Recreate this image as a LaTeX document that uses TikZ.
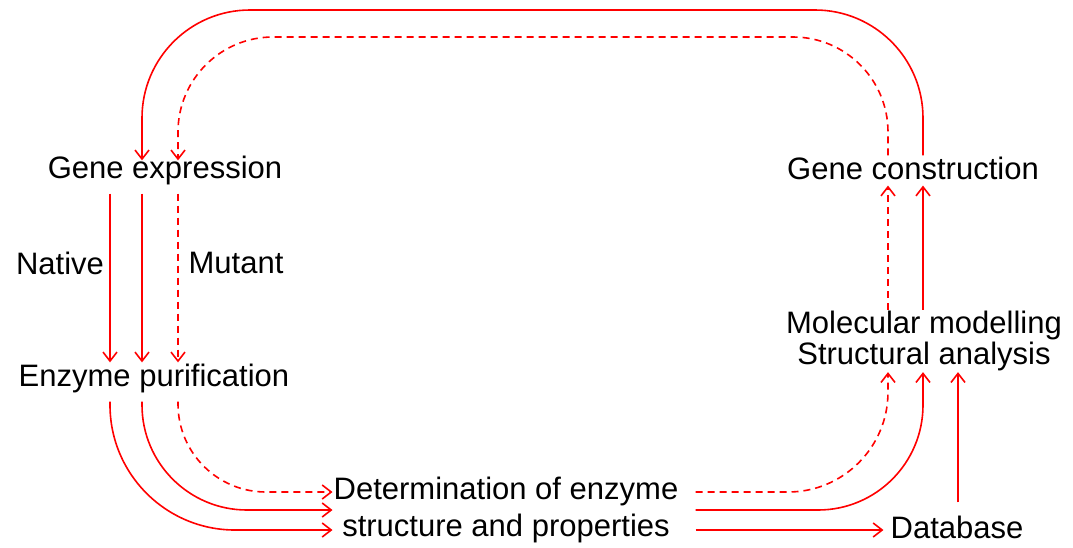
\documentclass[tikz,border=0pt]{standalone}
\usepackage{fontspec}
\setmainfont{Liberation Sans}
\usetikzlibrary{arrows.meta}

\begin{document}
\begin{tikzpicture}[
    x=1pt, y=-1pt,
    lbl/.style={inner sep=1pt, align=center, font=\fontsize{31}{37}\selectfont},
    arr/.style={-{Straight Barb[length=9pt, width=14pt]}, red, line width=1.6pt},
    darr/.style={arr, dash pattern=on 7pt off 5pt},
]
    \useasboundingbox (0,0) rectangle (1073,547);

    % Lanes of the connectors
    \coordinate (ln) at (110,0);
    \coordinate (lm) at (142,0);
    \coordinate (ld) at (178,0);
    \coordinate (rd) at (888,0);
    \coordinate (rs) at (923,0);
    \coordinate (rb) at (958,0);
    \coordinate (topo) at (0,10);
    \coordinate (topi) at (0,37);

    % Left column
    \node [lbl] (genexp) at (165,170) {Gene expression};
    \node [lbl] (native) at (60,263) {Native};
    \node [lbl] (mutant) at (236,263) {Mutant};
    \node [lbl] (purif) at (154,378) {Enzyme purification};

    % Bottom row
    \node [lbl] (determ) at (506,510) {Determination of enzyme\\structure and properties};
    \node [lbl] (database) at (957,527) {Database};

    % Right column
    \node [lbl] (genecon) at (913,168) {Gene construction};
    \node [lbl] (molmod) at (924,341) {Molecular modelling\\[-6pt]Structural analysis};

    % Expression to purification
    \draw [arr, shorten <=8pt] (genexp.south -| ln) -- (purif.north -| ln);
    \draw [arr, shorten <=8pt] (genexp.south -| lm) -- (purif.north -| lm);
    \draw [darr, shorten <=8pt] (genexp.south -| ld) -- (purif.north -| ld);

    % Purification to determination
    \draw [arr, shorten <=8pt, rounded corners=125pt] (purif.south -| ln) |- ([yshift=-20pt]determ.west);
    \draw [arr, shorten <=8pt, rounded corners=105pt] (purif.south -| lm) |- (determ.west);
    \draw [darr, shorten <=8pt, rounded corners=88pt] (purif.south -| ld) |- ([yshift=18pt]determ.west);

    % Determination to modelling and database
    \draw [darr, rounded corners=100pt] ([xshift=16pt, yshift=18pt]determ.east) -| (molmod.south -| rd);
    \draw [arr, rounded corners=105pt] ([xshift=16pt]determ.east) -| (molmod.south -| rs);
    \draw [arr, shorten >=6pt] ([xshift=16pt, yshift=-20pt]determ.east) coordinate (dbs) -- (database.west |- dbs);
    \draw [arr, shorten <=12pt] (database.north -| rb) -- (molmod.south -| rb);

    % Modelling to construction
    \draw [darr, shorten >=5pt] (molmod.north -| rd) -- (genecon.south -| rd);
    \draw [arr, shorten >=5pt] (molmod.north -| rs) -- (genecon.south -| rs);

    % Loop back over the top
    \draw [arr, rounded corners=108pt, shorten >=-6pt] (genecon.north -| rs) -- (rs |- topo) -- (lm |- topo) -- (genexp.north -| lm);
    \draw [darr, rounded corners=95pt, shorten >=-6pt] (genecon.north -| rd) -- (rd |- topi) -- (ld |- topi) -- (genexp.north -| ld);
\end{tikzpicture}
\end{document}
